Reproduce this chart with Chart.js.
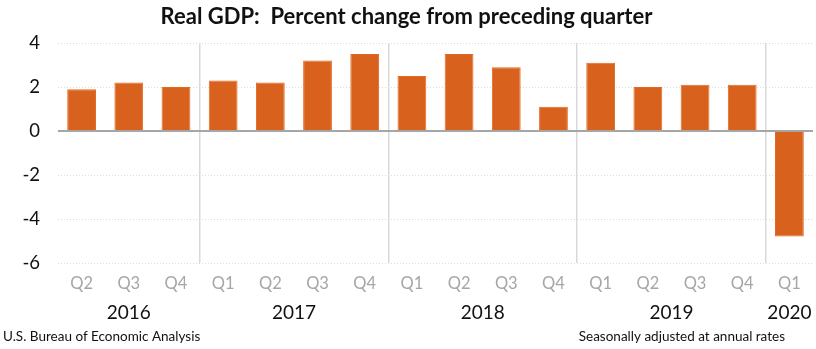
<!DOCTYPE html>
<html>
<head>
<meta charset="utf-8">
<title>Real GDP</title>
<script src="https://cdn.jsdelivr.net/npm/chart.js@4/dist/chart.umd.min.js"></script>
<style>
  html, body { margin: 0; padding: 0; background: #fff; }
  #wrap { position: relative; width: 816px; height: 349px; }
</style>
</head>
<body>
<div id="wrap"><canvas id="gdp"></canvas></div>
<script>
var quarters = ['Q2', 'Q3', 'Q4', 'Q1', 'Q2', 'Q3', 'Q4', 'Q1', 'Q2', 'Q3', 'Q4', 'Q1', 'Q2', 'Q3', 'Q4', 'Q1'];
var years = ['2016', '2017', '2018', '2019', '2020'];
var quartersPerYear = [3, 4, 4, 4, 1];
var growth = [1.9, 2.2, 2.0, 2.3, 2.2, 3.2, 3.5, 2.5, 3.5, 2.9, 1.1, 3.1, 2.0, 2.1, 2.1, -4.8];
var yTicks = [-6, -4, -2, 0, 2, 4];

var FONT = 'Lato, "Open Sans", sans-serif';
var BAR = '#d8611d';

// year labels under the quarter labels, plus the two footer notes
var yearLabels = {
  id: 'yearLabels',
  afterDraw: function(chart) {
    var ctx = chart.ctx, x = chart.scales.x, area = chart.chartArea;
    var start = 0, i, from, to;
    ctx.save();
    ctx.fillStyle = '#111';
    ctx.font = '19px ' + FONT;
    ctx.textAlign = 'center';
    ctx.textBaseline = 'middle';
    for (i = 0; i < years.length; i++) {
      from = x.getPixelForValue(start);
      to = x.getPixelForValue(start + quartersPerYear[i] - 1);
      ctx.fillText(years[i], (from + to) / 2, area.bottom + 50);
      start += quartersPerYear[i];
    }
    ctx.font = '13.5px ' + FONT;
    ctx.textAlign = 'left';
    ctx.fillText('U.S. Bureau of Economic Analysis', 3, 337);
    ctx.textAlign = 'right';
    ctx.fillText('Seasonally adjusted at annual rates', 785, 337);
    ctx.restore();
  }
};

// index of the first quarter of each year after the first one
function isYearStart(i) {
  var n = 0, k;
  for (k = 0; k < quartersPerYear.length - 1; k++) {
    n += quartersPerYear[k];
    if (n === i) return true;
  }
  return false;
}

new Chart(document.getElementById('gdp'), {
  type: 'bar',
  data: {
    labels: quarters,
    datasets: [{
      data: growth,
      backgroundColor: BAR,
      borderColor: '#e4691f',
      borderWidth: 1,
      barPercentage: 0.61,
      categoryPercentage: 1
    }]
  },
  options: {
    responsive: true,
    maintainAspectRatio: false,
    animation: false,
    layout: { padding: { left: 0, right: 3, bottom: 0 } },
    plugins: {
      legend: { display: false },
      tooltip: { enabled: false },
      title: {
        display: true,
        text: 'Real GDP:  Percent change from preceding quarter',
        color: '#111',
        font: { family: FONT, size: 22, weight: 'bold', lineHeight: 1.2 },
        padding: { top: 4, bottom: 12.6 }
      }
    },
    scales: {
      x: {
        grid: {
          offset: true,
          drawTicks: false,
          lineWidth: 1.5,
          color: function(c) {
            return c.index !== undefined && isYearStart(c.index) ? '#d9d9d9' : 'rgba(0,0,0,0)';
          }
        },
        border: { display: false },
        ticks: {
          color: '#a6a6a6',
          padding: 11,
          font: { family: FONT, size: 16.5 },
          maxRotation: 0,
          autoSkip: false
        },
        afterFit: function(scale) { scale.height = 86; }
      },
      y: {
        min: -6,
        max: 4,
        afterBuildTicks: function(scale) {
          scale.ticks = yTicks.map(function(v) { return { value: v }; });
        },
        grid: {
          drawTicks: false,
          color: function(c) { return c.tick && c.tick.value === 0 ? '#a6a6a6' : '#dcdcdc'; },
          lineWidth: function(c) { return c.tick && c.tick.value === 0 ? 2 : 1; }
        },
        border: {
          display: false,
          dash: function(c) { return c.tick && c.tick.value === 0 ? [] : [1, 2]; }
        },
        ticks: {
          color: '#111',
          padding: 18,
          font: { family: FONT, size: 18.5 }
        },
        afterFit: function(scale) { scale.width = 58; }
      }
    }
  },
  plugins: [yearLabels]
});
</script>
</body>
</html>
